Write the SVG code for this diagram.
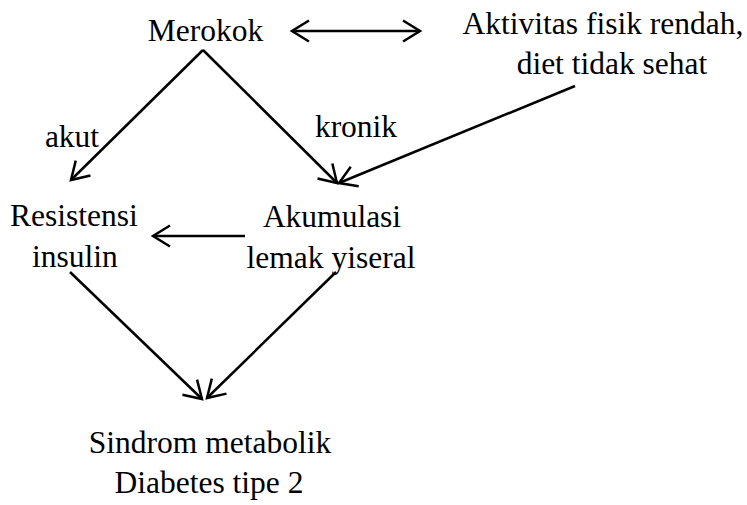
<svg xmlns="http://www.w3.org/2000/svg" width="747" height="505" viewBox="0 0 747 505">
<style>
text{font-family:'Liberation Serif','Times New Roman',serif;font-size:31.5px;fill:#000;text-anchor:middle}
.c line{stroke:#000;stroke-width:2.5;fill:none}
</style>
<defs>
<marker id="ah" markerUnits="userSpaceOnUse" markerWidth="40" markerHeight="40" viewBox="-25 -20 30 40" refX="0" refY="0" orient="auto-start-reverse">
<path d="M-17,-10.5 L0,0 L-17,10.5" fill="none" stroke="#000" stroke-width="2.5"/>
</marker>
</defs>
<rect width="747" height="505" fill="#fff"/>
<g id="merokok"><text x="205.5" y="41">Merokok</text></g>
<g id="aktivitas"><text x="603" y="34">Aktivitas fisik rendah,</text><text x="612" y="74">diet tidak sehat</text></g>
<g id="resistensi"><text x="74" y="226">Resistensi</text><text x="75" y="267">insulin</text></g>
<g id="akumulasi"><text x="332" y="227">Akumulasi</text><text x="331" y="268">lemak yiseral</text></g>
<g id="sindrom"><text x="210" y="453">Sindrom metabolik</text><text x="209" y="493">Diabetes tipe 2</text></g>
<g id="labels"><text x="72" y="147">akut</text><text x="356" y="137">kronik</text></g>
<g class="c" id="connectors">
<line x1="292" y1="31" x2="420" y2="31" marker-start="url(#ah)" marker-end="url(#ah)"/>
<line x1="203" y1="50" x2="71" y2="180" marker-end="url(#ah)"/>
<line x1="203" y1="50" x2="337" y2="183" marker-end="url(#ah)"/>
<line x1="575" y1="86" x2="339" y2="183" marker-end="url(#ah)"/>
<line x1="245" y1="236" x2="153" y2="236" marker-end="url(#ah)"/>
<line x1="70" y1="272" x2="202" y2="399" marker-end="url(#ah)"/>
<line x1="336" y1="272" x2="207" y2="398" marker-end="url(#ah)"/>
</g>
</svg>
